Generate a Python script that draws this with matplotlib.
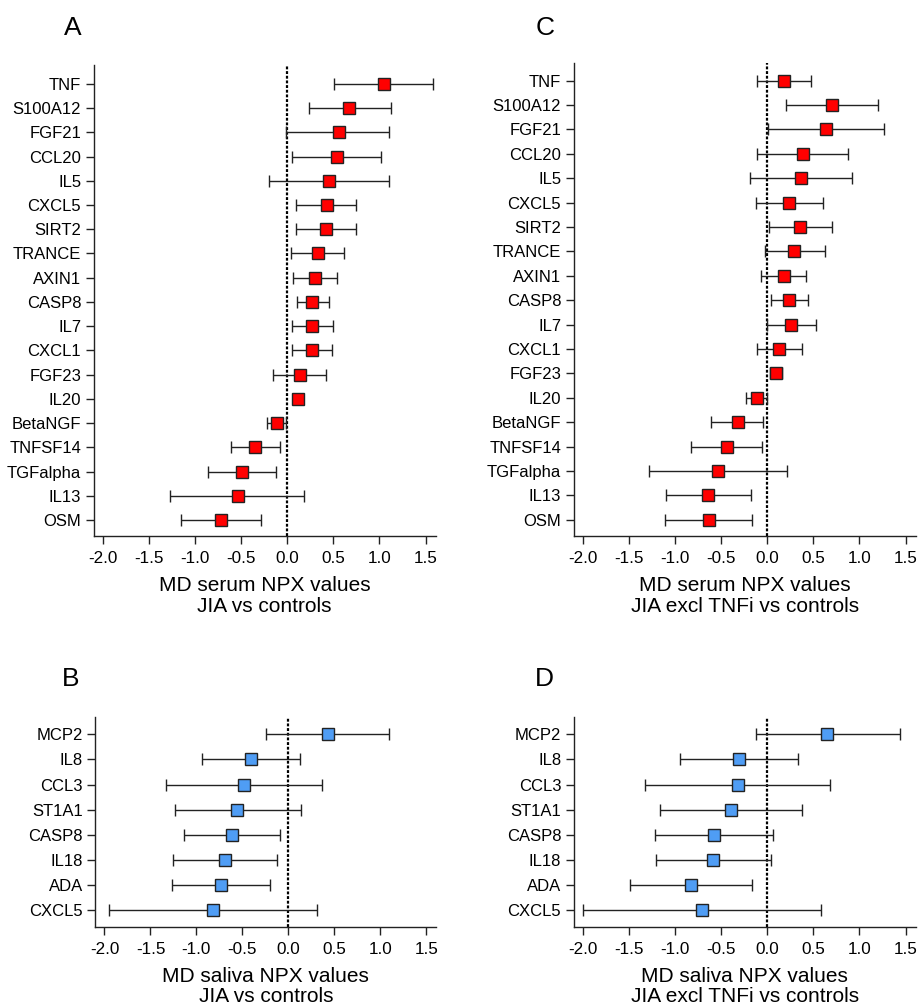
import matplotlib
matplotlib.use("Agg")
import matplotlib.pyplot as plt
import numpy as np

plt.rcParams['font.family'] = ['Liberation Sans', 'DejaVu Sans']

# ---------------- Data ----------------
serum_labels = ["TNF", "S100A12", "FGF21", "CCL20", "IL5", "CXCL5", "SIRT2", "TRANCE",
                "AXIN1", "CASP8", "IL7", "CXCL1", "FGF23", "IL20", "BetaNGF", "TNFSF14",
                "TGFalpha", "IL13", "OSM"]

a_md = [1.05, 0.67, 0.56, 0.54, 0.45, 0.43, 0.42, 0.33, 0.30, 0.27, 0.27, 0.265, 0.135,
        0.12, -0.115, -0.35, -0.49, -0.54, -0.72]
a_lo = [0.51, 0.24, -0.01, 0.05, -0.20, 0.09, 0.09, 0.04, 0.06, 0.10, 0.05, 0.05, -0.155,
        0.07, -0.22, -0.61, -0.86, -1.27, -1.155]
a_hi = [1.58, 1.12, 1.105, 1.02, 1.105, 0.75, 0.74, 0.61, 0.54, 0.45, 0.50, 0.49, 0.42,
        0.17, -0.01, -0.08, -0.12, 0.18, -0.28]

c_md = [0.18, 0.707, 0.638, 0.384, 0.362, 0.239, 0.359, 0.293, 0.178, 0.239, 0.261, 0.13,
        0.094, -0.116, -0.322, -0.438, -0.533, -0.638, -0.634]
c_lo = [-0.116, 0.207, 0.007, -0.112, -0.192, -0.123, 0.018, -0.029, -0.069, 0.04, -0.004,
        -0.116, 0.03, -0.228, -0.609, -0.826, -1.283, -1.098, -1.105]
c_hi = [0.475, 1.203, 1.264, 0.877, 0.924, 0.601, 0.703, 0.627, 0.424, 0.446, 0.533, 0.373,
        0.163, -0.007, -0.047, -0.054, 0.21, -0.174, -0.167]

saliva_labels = ["MCP2", "IL8", "CCL3", "ST1A1", "CASP8", "IL18", "ADA", "CXCL5"]

b_md = [0.43, -0.409, -0.484, -0.553, -0.615, -0.687, -0.73, -0.817]
b_lo = [-0.239, -0.94, -1.33, -1.229, -1.139, -1.251, -1.262, -1.952]
b_hi = [1.10, 0.123, 0.362, 0.134, -0.09, -0.127, -0.199, 0.311]

d_md = [0.653, -0.305, -0.319, -0.396, -0.577, -0.588, -0.828, -0.704]
d_lo = [-0.127, -0.944, -1.325, -1.169, -1.216, -1.212, -1.488, -1.996]
d_hi = [1.437, 0.334, 0.682, 0.381, 0.062, 0.04, -0.163, 0.588]

xticks = [-2.0, -1.5, -1.0, -0.5, 0.0, 0.5, 1.0, 1.5]

RED = "#FF0000"
BLUE = "#4F9DF5"

W, H = 919, 1008
fig = plt.figure(figsize=(W / 100, H / 100), dpi=100)


def make_ax(left, right, top, bottom):
    return fig.add_axes([left / W, 1 - bottom / H, (right - left) / W, (bottom - top) / H])


def panel(ax, labels, md, lo, hi, color, ylim, xlabel):
    n = len(labels)
    y = np.arange(n)[::-1]
    md = np.array(md)
    lo = np.array(lo)
    hi = np.array(hi)
    ax.axvline(0, color="black", lw=1.6, ls=(0, (1.3, 0.8)), zorder=1)
    ax.errorbar(md, y, xerr=[md - lo, hi - md], fmt="none", ecolor="#222222",
                elinewidth=1.0, capsize=4, capthick=1.0, zorder=2)
    ax.plot(md, y, ls="none", marker="s", ms=8.3, mfc=color, mec="#222222", mew=1.0, zorder=3)
    ax.set_yticks(y)
    ax.set_yticklabels(labels, fontsize=12)
    ax.set_xticks(xticks)
    ax.set_xticklabels([f"{t:.1f}" for t in xticks], fontsize=12.3)
    ax.set_xlim(-2.1, 1.61)
    ax.set_ylim(*ylim)
    for s in ["top", "right"]:
        ax.spines[s].set_visible(False)
    for s in ["left", "bottom"]:
        ax.spines[s].set_linewidth(1.0)
        ax.spines[s].set_color("#222222")
    ax.tick_params(axis="both", direction="out", length=6, width=1.0, color="#222222", pad=3)
    ax.tick_params(axis="x", pad=5)
    ax.set_xlabel(xlabel, fontsize=15, labelpad=7, linespacing=1.1)


axA = make_ax(93.7, 435.7, 65, 536)
panel(axA, serum_labels, a_md, a_lo, a_hi, RED, (-0.66, 18.78),
      "MD serum NPX values\nJIA vs controls")
axC = make_ax(573.7, 915.7, 63, 536)
panel(axC, serum_labels, c_md, c_lo, c_hi, RED, (-0.66, 18.72),
      "MD serum NPX values\nJIA excl TNFi vs controls")
axB = make_ax(95.3, 436.3, 717.3, 926.7)
panel(axB, saliva_labels, b_md, b_lo, b_hi, BLUE, (-0.665, 7.68),
      "MD saliva NPX values\nJIA vs controls")
axD = make_ax(573.7, 915.7, 717.3, 926.7)
panel(axD, saliva_labels, d_md, d_lo, d_hi, BLUE, (-0.665, 7.68),
      "MD saliva NPX values\nJIA excl TNFi vs controls")

for letter, x, y in [("A", 73, 35), ("C", 545, 35), ("B", 71, 686), ("D", 544, 686)]:
    fig.text(x / W, 1 - y / H, letter, fontsize=19, ha="center", va="baseline")

fig.savefig("out.png", dpi=100)
